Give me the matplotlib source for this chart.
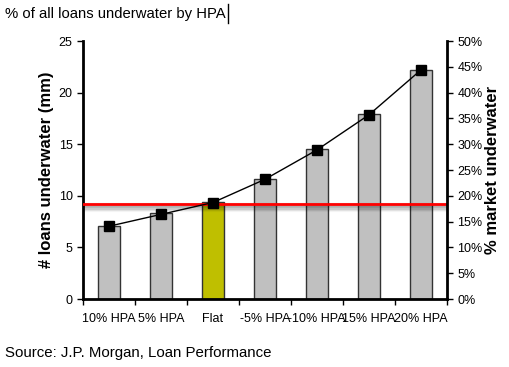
import matplotlib
matplotlib.use("Agg")
import matplotlib.pyplot as plt
import matplotlib.patheffects as pe

plt.rcParams['font.family'] = ['Liberation Sans', 'DejaVu Sans']

categories = ["10% HPA", "5% HPA", "Flat", "-5% HPA", "-10% HPA", "15% HPA", "20% HPA"]
loans_mm = [7.1, 8.3, 9.4, 11.6, 14.5, 17.9, 22.2]
pct_market = [14.1, 16.4, 18.7, 23.2, 28.9, 35.7, 44.4]
threshold_mm = 9.25
bar_colors = ["#C0C0C0", "#C0C0C0", "#BFBF00", "#C0C0C0", "#C0C0C0", "#C0C0C0", "#C0C0C0"]

fig = plt.figure(figsize=(5.10, 3.67), dpi=100)
ax = fig.add_axes([83/510, 1-299/367, (447-83)/510, (299-41)/367])
x = list(range(len(categories)))
ax.bar(x, loans_mm, width=0.42, color=bar_colors, edgecolor="#333333", linewidth=1.0, zorder=2)
ax.set_xlim(-0.5, len(categories)-0.5)
ax.set_ylim(0, 25)
ax.set_yticks([0, 5, 10, 15, 20, 25])
ax.set_xticks(x)
ax.set_xticklabels(categories, fontsize=9)
ax.set_xticks([i-0.5 for i in range(len(categories)+1)], minor=True)
ax.tick_params(axis='x', which='major', length=0, pad=10)
ax.tick_params(axis='x', which='minor', length=4, width=1, direction='out')
ax.tick_params(axis='y', labelsize=9, length=4, width=1, direction='out')
for s in ['top', 'right']:
    ax.spines[s].set_visible(False)
ax.spines['left'].set_linewidth(2)
ax.spines['bottom'].set_linewidth(2)
ax.set_ylabel("# loans underwater (mm)", fontsize=12, fontweight='bold', labelpad=3)

# red threshold line with soft shadow
shadow = [pe.SimpleLineShadow(offset=(0, -d), shadow_color='black', alpha=a, rho=1, linewidth=3)
          for d, a in [(1, 0.12), (2, 0.12), (3, 0.10), (4, 0.07), (5, 0.04)]]
ax.axhline(threshold_mm, color="red", linewidth=2, zorder=4, path_effects=shadow + [pe.Normal()])

ax2 = ax.twinx()
ax2.plot(x, pct_market, color="black", linewidth=1, marker='s', markersize=7, zorder=5)
ax2.set_ylim(0, 50)
ax2.set_yticks(range(0, 51, 5))
ax2.set_yticklabels([f"{v}%" for v in range(0, 51, 5)], fontsize=9)
ax2.tick_params(axis='y', length=4, width=1, direction='out')
for s in ['top', 'left', 'bottom']:
    ax2.spines[s].set_visible(False)
ax2.spines['right'].set_linewidth(2)
ax2.set_ylabel("% market underwater", fontsize=12, fontweight='bold', labelpad=2)

fig.text(5/510, 1-14/367, "% of all loans underwater by HPA", fontsize=10.7, va='center', ha='left')
fig.add_artist(plt.Line2D([228/510, 228/510], [1-23/367, 1-4/367], color='black', linewidth=1))
fig.text(5/510, 1-353/367, "Source: J.P. Morgan, Loan Performance", fontsize=10.8, va='center', ha='left')

fig.savefig("out.png", dpi=100)
